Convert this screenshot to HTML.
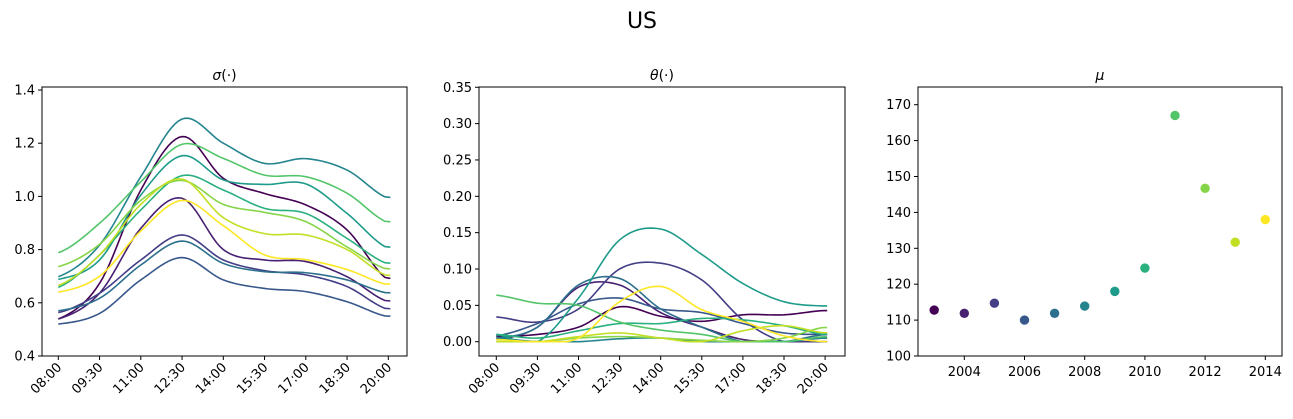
<!DOCTYPE html>
<html><head><meta charset="utf-8"><style>
body{margin:0;background:#fff;}
svg text{font-family:"DejaVu Sans","Liberation Sans",sans-serif;fill:#000;}
</style></head><body>
<svg id="chart" width="1293" height="414" viewBox="0 0 1293 414">
<text x="642" y="28" font-size="22" text-anchor="middle">US</text>
</svg>
<script>
const timeLabels=["08:00","09:30","11:00","12:30","14:00","15:30","17:00","18:30","20:00"];
const years=[2003,2004,2005,2006,2007,2008,2009,2010,2011,2012,2013,2014];
const colors=["#440154","#482173","#433e85","#38588c","#2d708e","#25858e","#1e9b8a","#2ab07f","#52c569","#86d549","#c2df23","#fde725"];
const sigma2003=[0.539,0.673,1.024,1.225,1.068,1.011,0.968,0.874,0.686];
const sigma2004=[0.539,0.636,0.88,0.993,0.80,0.761,0.755,0.698,0.604];
const sigma2005=[0.563,0.636,0.761,0.855,0.761,0.721,0.705,0.661,0.575];
const sigma2006=[0.52,0.56,0.686,0.77,0.686,0.654,0.642,0.604,0.548];
const sigma2007=[0.57,0.617,0.742,0.832,0.748,0.717,0.713,0.686,0.636];
const sigma2008=[0.698,0.817,1.074,1.291,1.2,1.124,1.142,1.099,0.993];
const sigma2009=[0.688,0.761,1.005,1.153,1.062,1.045,1.047,0.936,0.805];
const sigma2010=[0.658,0.78,0.949,1.078,1.024,0.955,0.936,0.842,0.746];
const sigma2011=[0.788,0.899,1.055,1.196,1.143,1.08,1.074,1.012,0.901];
const sigma2012=[0.736,0.82,0.985,1.06,0.97,0.94,0.905,0.81,0.725];
const sigma2013=[0.665,0.78,0.97,1.065,0.92,0.86,0.855,0.80,0.70];
const sigma2014=[0.64,0.70,0.87,0.985,0.89,0.78,0.762,0.725,0.668];
const sigmaSeries=[sigma2003,sigma2004,sigma2005,sigma2006,sigma2007,sigma2008,sigma2009,sigma2010,sigma2011,sigma2012,sigma2013,sigma2014];
const theta2003=[0.007,0.01,0.02,0.048,0.035,0.028,0.037,0.037,0.043];
const theta2004=[0.003,0.02,0.075,0.078,0.04,0.02,0.003,0,0];
const theta2005=[0.034,0.027,0.045,0.10,0.108,0.085,0.03,0,0];
const theta2006=[0.008,0.025,0.052,0.06,0.045,0.04,0.025,0.012,0.01];
const theta2007=[0.005,0.02,0.078,0.087,0.045,0.02,0,0,0.01];
const theta2008=[0.005,0,0,0.004,0.005,0,0,0,0.005];
const theta2009=[0.01,0,0.06,0.14,0.155,0.12,0.08,0.055,0.049];
const theta2010=[0.01,0.005,0.015,0.025,0.025,0.032,0.03,0.022,0.01];
const theta2011=[0.064,0.053,0.05,0.027,0.016,0.01,0,0,0.007];
const theta2012=[0,0,0.005,0.007,0.005,0.002,0,0.005,0.02];
const theta2013=[0,0,0.007,0.012,0.005,0,0.015,0.022,0.012];
const theta2014=[0.003,0,0.005,0.055,0.076,0.044,0.028,0.008,0];
const thetaSeries=[theta2003,theta2004,theta2005,theta2006,theta2007,theta2008,theta2009,theta2010,theta2011,theta2012,theta2013,theta2014];
const muValues=[112.8,111.9,114.7,110,111.9,113.9,118,124.5,167,146.7,131.7,138];
const sigmaTicks=[0.4,0.6,0.8,1.0,1.2,1.4];
const thetaTicks=[0,0.05,0.10,0.15,0.20,0.25,0.30,0.35];
const muTicks=[100,110,120,130,140,150,160,170];
const yearTicks=[2004,2006,2008,2010,2012,2014];

const svg=document.getElementById('chart');
const NS="http://www.w3.org/2000/svg";
function mk(tag,attrs,parent){const e=document.createElementNS(NS,tag);for(const k in attrs)e.setAttribute(k,attrs[k]);(parent||svg).appendChild(e);return e;}

function panel(name,L,R,T,B,title){
  const g=mk('g',{});
  
  
  const t=mk('text',{x:(L+R)/2,y:T-7,'font-size':14,'text-anchor':'middle'},g);
  t.innerHTML=title;
  
  
  return g;
}
function frame(g,L,R,T,B){
  const r=mk('rect',{x:L,y:T,width:R-L,height:B-T,fill:'none',stroke:'#000','stroke-width':1},g);
  
  
}
function yTicks(g,ticks,sy,L,fmt){
  ticks.forEach(v=>{const y=sy(v);
    mk('line',{x1:L-4,x2:L,y1:y,y2:y,stroke:'#000'},g);
    const t=mk('text',{x:L-7,y:y+4.5,'font-size':13,'text-anchor':'end'},g);
    t.textContent=fmt(v);
    
    });
}
function xTimeTicks(g,sx,B){
  timeLabels.forEach((lab,i)=>{const x=sx(i);
    mk('line',{x1:x,x2:x,y1:B,y2:B+4,stroke:'#000'},g);
    const t=mk('text',{x:x+4,y:B+12,'font-size':13,'text-anchor':'end',transform:`rotate(-45 ${x+4} ${B+12})`},g);
    t.textContent=lab;
    
    });
}
function spline(vals,sx,sy,clamp){
  const n=vals.length;const pts=[];
  for(let i=0;i<n-1;i++){
    const p0=vals[Math.max(i-1,0)],p1=vals[i],p2=vals[i+1],p3=vals[Math.min(i+2,n-1)];
    for(let s=0;s<12;s++){const t=s/12;
      let v=0.5*((2*p1)+(-p0+p2)*t+(2*p0-5*p1+4*p2-p3)*t*t+(-p0+3*p1-3*p2+p3)*t*t*t);
      if(clamp)v=Math.max(0,v);
      pts.push([sx(i+t),sy(v)]);}
  }
  pts.push([sx(n-1+0.05),sy(vals[n-1]-(vals[n-1]-vals[n-2])*0.03)]);
  return 'M'+pts.map(p=>p[0].toFixed(2)+','+p[1].toFixed(2)).join('L');
}

// Panel 1 sigma
{const L=42,R=407,T=87,B=356;
 const sx=i=>58.3+i*41.25, sy=v=>356-(v-0.4)*266;
 const g=panel('sigma-panel',L,R,T,B,'<tspan font-style="italic">σ</tspan>(·)');
 sigmaSeries.forEach((s,k)=>{const p=mk('path',{d:spline(s,sx,sy,false),fill:'none',stroke:colors[k],'stroke-width':1.6},g);
   
   });
 frame(g,L,R,T,B);yTicks(g,sigmaTicks,sy,L,v=>v.toFixed(1));xTimeTicks(g,sx,B);}
// Panel 2 theta
{const L=479,R=845,T=87,B=356;
 const sx=i=>496.3+i*41.1, sy=v=>341.7-v*727;
 const g=panel('theta-panel',L,R,T,B,'<tspan font-style="italic">θ</tspan>(·)');
 thetaSeries.forEach((s,k)=>{const p=mk('path',{d:spline(s,sx,sy,true),fill:'none',stroke:colors[k],'stroke-width':1.6},g);
   
   });
 frame(g,L,R,T,B);yTicks(g,thetaTicks,sy,L,v=>v.toFixed(2));xTimeTicks(g,sx,B);}
// Panel 3 mu
{const L=918,R=1282,T=87,B=356;
 const sx=y=>934.2+(y-2003)*30.1, sy=v=>356-(v-100)*3.59;
 const g=panel('mu-panel',L,R,T,B,'<tspan font-style="italic">μ</tspan>');
 years.forEach((yr,k)=>{const c=mk('circle',{cx:sx(yr),cy:sy(muValues[k]),r:4.7,fill:colors[k]},g);
   
   });
 frame(g,L,R,T,B);yTicks(g,muTicks,sy,L,v=>String(v));
 yearTicks.forEach(yr=>{const x=sx(yr);mk('line',{x1:x,x2:x,y1:B,y2:B+4,stroke:'#000'},g);
   const t=mk('text',{x:x,y:B+20,'font-size':13,'text-anchor':'middle'},g);t.textContent=yr;
   
   });}
</script>
</body></html>
